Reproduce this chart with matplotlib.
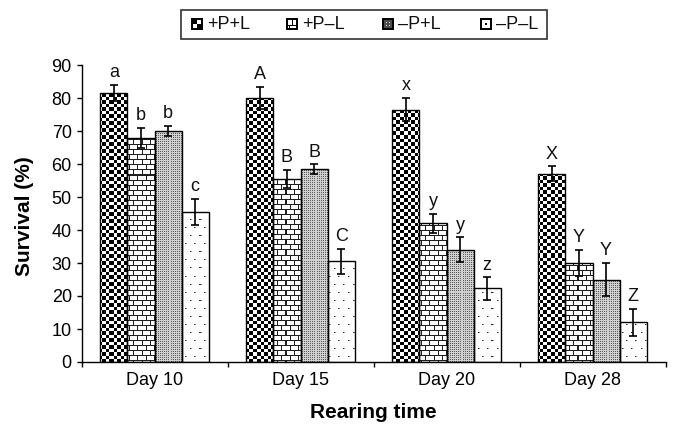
import numpy as np
import matplotlib
matplotlib.use('Agg')
import matplotlib.pyplot as plt
from matplotlib.patches import Rectangle

plt.rcParams['font.family'] = ['Liberation Sans', 'DejaVu Sans']

# ---------------- data ----------------
days = ['Day 10', 'Day 15', 'Day 20', 'Day 28']
series_names = ['+P+L', '+P\u2013L', '\u2013P+L', '\u2013P\u2013L']
ppl = [81.5, 80.0, 76.5, 57.0]
ppnl = [68.0, 55.5, 42.0, 30.0]
npl = [70.0, 58.5, 34.0, 25.0]
npnl = [45.5, 30.5, 22.3, 12.0]
err_ppl = [2.5, 3.3, 3.5, 2.3]
err_ppnl = [3.0, 2.8, 3.0, 4.0]
err_npl = [1.5, 1.4, 3.8, 5.0]
err_npnl = [3.9, 3.8, 3.4, 4.2]
let_ppl = ['a', 'A', 'x', 'X']
let_ppnl = ['b', 'B', 'y', 'Y']
let_npl = ['b', 'B', 'y', 'Y']
let_npnl = ['c', 'C', 'z', 'Z']
yticks = [0, 10, 20, 30, 40, 50, 60, 70, 80, 90]

values = [ppl, ppnl, npl, npnl]
errors = [err_ppl, err_ppnl, err_npl, err_npnl]
letters = [let_ppl, let_ppnl, let_npl, let_npnl]

# ---------------- figure ----------------
W, H = 675, 426
fig = plt.figure(figsize=(W / 100, H / 100), dpi=100)
ax_l, ax_r, ax_t, ax_b = 81.5, 665.5, 65.0, 362.0
ax = fig.add_axes([ax_l / W, 1 - ax_b / H, (ax_r - ax_l) / W, (ax_b - ax_t) / H])

PW = int(round(ax_r - ax_l))
PH = int(round(ax_b - ax_t))


def checker():
    i, j = np.mgrid[0:PH, 0:PW]
    blk = (i % 7 < 4) == (j % 7 < 4)
    g = np.where(blk, 0.0, 1.0)
    return np.dstack([g, g, g])


def brick():
    i, j = np.mgrid[0:PH, 0:PW]
    row = i // 5
    off = np.where(row % 2 == 0, 0, 4)
    line = (i % 5 == 0) | ((j + off) % 8 == 0)
    g = np.where(line, 0.12, 1.0)
    return np.dstack([g, g, g])


def stipple():
    i, j = np.mgrid[0:PH, 0:PW]
    dark = (i % 2 == 0) & (j % 2 == 0)
    g = np.where(dark, 0.35, 0.82)
    return np.dstack([g, g, g])


def sparse():
    i, j = np.mgrid[0:PH, 0:PW]
    row = i // 8
    off = np.where(row % 2 == 0, 0, 4)
    dot = (i % 8 == 3) & ((j + off) % 9 == 4)
    dot2 = (i % 8 == 3) & ((j + off) % 9 == 5)
    g = np.ones((PH, PW))
    g[dot] = 0.15
    g[dot2] = 0.6
    return np.dstack([g, g, g])


patterns = [checker(), brick(), stipple(), sparse()]

xlim = (0, 4)
ylim = (0, 90)
bw = 0.1855
start = 0.129
for k in range(4):
    xs = [d + start + bw * (k + 0.5) for d in range(len(days))]
    bars = ax.bar(xs, values[k], bw, facecolor='none', edgecolor='black',
                  linewidth=1.0, zorder=3)
    for rect in bars:
        im = ax.imshow(patterns[k], extent=(xlim[0], xlim[1], ylim[0], ylim[1]),
                       aspect='auto', interpolation='nearest', zorder=2,
                       origin='upper')
        im.set_clip_path(rect)
    ax.errorbar(xs, values[k], yerr=errors[k], fmt='none', ecolor='black',
                elinewidth=1.2, capsize=3, capthick=1.2, zorder=4)
    for x, v, e, t in zip(xs, values[k], errors[k], letters[k]):
        ax.annotate(t, (x, v + e), xytext=(0, 5.5), textcoords='offset points',
                    ha='center', va='baseline', fontsize=13, color='#111111')

ax.set_xlim(*xlim)
ax.set_ylim(*ylim)
ax.spines['top'].set_visible(False)
ax.spines['right'].set_visible(False)
for s in ('left', 'bottom'):
    ax.spines[s].set_linewidth(1.0)
ax.set_yticks(yticks)
ax.tick_params(axis='y', direction='out', length=3.5, width=1.0, pad=3.5,
               labelsize=13)
ax.set_xticks([0, 1, 2, 3, 4])
ax.set_xticklabels([])
ax.set_xticks([d + 0.5 for d in range(len(days))], minor=True)
ax.set_xticklabels(days, minor=True, fontsize=13)
ax.tick_params(axis='x', which='major', direction='out', length=3.5, width=1.0)
ax.tick_params(axis='x', which='minor', length=0, pad=7)

fig.text(373 / W, 1 - 413 / H, 'Rearing time', ha='center', va='center',
         fontsize=15, fontweight='bold')
fig.text(24 / W, 1 - 216 / H, 'Survival (%)', ha='center', va='center',
         rotation=90, fontsize=15, fontweight='bold')

# ---------------- legend ----------------
lax = fig.add_axes([0, 0, 1, 1], zorder=10)
lax.set_xlim(0, W)
lax.set_ylim(H, 0)
lax.axis('off')
lax.patch.set_alpha(0)
lax.add_patch(Rectangle((181, 10), 366, 29, fill=False, edgecolor='#333333',
                        linewidth=1.2))

n = 12


def icon(kind):
    a = np.ones((n, n))
    if kind == 0:
        a[:, :] = 0
        a[2:6, 6:10] = 1
        a[6:10, 2:6] = 1
    elif kind == 1:
        a[7, :] = 0
        a[0:7, 6] = 0
        a[7:, 3] = 0
    elif kind == 2:
        a[:, :] = 0.3
        ii, jj = np.mgrid[0:n, 0:n]
        a[(ii % 3 == 1) & (jj % 3 == 1)] = 0.9
    elif kind == 3:
        a[5:7, 5:7] = 0
    a[0:2, :] = 0
    a[-2:, :] = 0
    a[:, 0:2] = 0
    a[:, -2:] = 0
    return np.dstack([a, a, a])


icon_x = [191, 286, 382, 480]
text_x = [207, 302, 398, 496]
for k in range(4):
    x0 = icon_x[k]
    lax.imshow(icon(k), extent=(x0, x0 + n, 18 + n, 18), interpolation='nearest',
               aspect='auto')
    lax.text(text_x[k], 24.5, series_names[k], ha='left', va='center',
             fontsize=13, color='#111111')
lax.set_xlim(0, W)
lax.set_ylim(H, 0)

fig.savefig('out.png', dpi=100)
